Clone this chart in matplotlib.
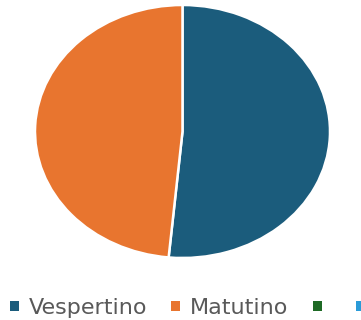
import matplotlib.pyplot as plt
from matplotlib.patches import Patch

# Turnos
labels = ["Vespertino", "Matutino", "", ""]
values = [51.5, 48.5, 0, 0]
colors = ["#1B5C7C", "#E8752F", "#1E6A25", "#2A9BD8"]

fig = plt.figure(figsize=(3.61, 3.2), dpi=100)
ax = fig.add_axes([35 / 361, 62 / 320, 295 / 361, 253 / 320])

ax.pie(values[:2], colors=colors[:2], startangle=90, counterclock=False,
       wedgeprops=dict(edgecolor="white", linewidth=1.8))
ax.set_aspect("auto")
ax.set_xlim(-1, 1)
ax.set_ylim(-1, 1)

handles = [Patch(facecolor=c) for c in colors]
fig.legend(handles, labels, ncol=4, loc="center left", bbox_to_anchor=(10 / 361, 12 / 320),
           frameon=False, fontsize=16, labelcolor="#595959", borderpad=0, borderaxespad=0,
           handlelength=0.4, handleheight=0.32, handletextpad=0.45,
           columnspacing=1.08)

fig.savefig("out.png")
